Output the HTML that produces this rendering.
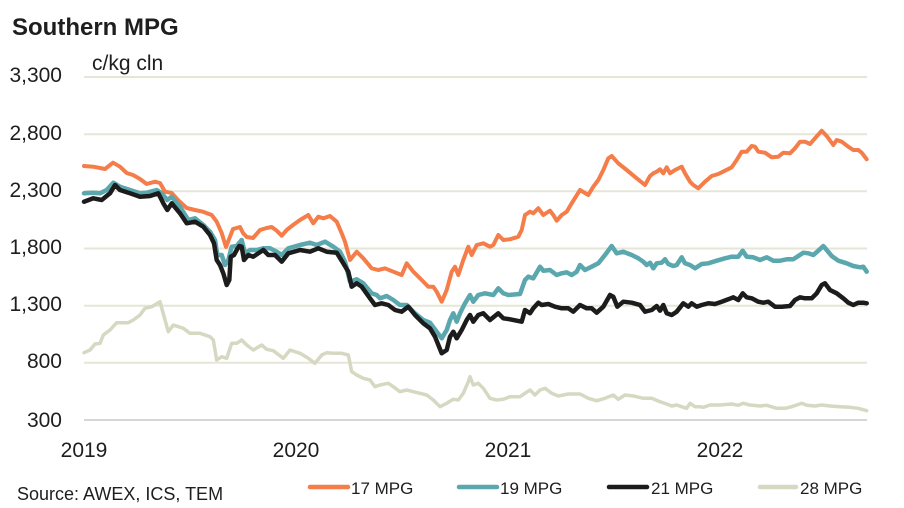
<!DOCTYPE html>
<html>
<head>
<meta charset="utf-8">
<style>
html,body{margin:0;padding:0;background:#fff;}
svg{display:block;}
text{font-family:"Liberation Sans",Arial,sans-serif;fill:#1e1e1e;}
</style>
</head>
<body>
<svg width="904" height="508" viewBox="0 0 904 508" xmlns="http://www.w3.org/2000/svg">
<rect width="904" height="508" fill="#fff"/>
<text x="12" y="35" font-size="24" font-weight="bold">Southern MPG</text>
<text x="92" y="70" font-size="21">c/kg cln</text>

<g stroke="#e6e6d7" stroke-width="2">
<line x1="84" y1="77" x2="867" y2="77"/>
<line x1="84" y1="134.2" x2="867" y2="134.2"/>
<line x1="84" y1="191.3" x2="867" y2="191.3"/>
<line x1="84" y1="248.5" x2="867" y2="248.5"/>
<line x1="84" y1="305.7" x2="867" y2="305.7"/>
<line x1="84" y1="362.8" x2="867" y2="362.8"/>
</g>
<line x1="84" y1="420" x2="867" y2="420" stroke="#d6d6d6" stroke-width="2"/>

<g font-size="21" text-anchor="end">
<text x="62" y="82">3,300</text>
<text x="62" y="140">2,800</text>
<text x="62" y="197">2,300</text>
<text x="62" y="254">1,800</text>
<text x="62" y="311">1,300</text>
<text x="62" y="368">800</text>
<text x="62" y="427">300</text>
</g>
<g font-size="21" text-anchor="middle">
<text x="84" y="457">2019</text>
<text x="296" y="457">2020</text>
<text x="508" y="457">2021</text>
<text x="720" y="457">2022</text>
</g>

<g fill="none" stroke-linejoin="round" stroke-linecap="round">
<polyline stroke="#d6d8c2" stroke-width="3.5" points="84,352.7 90,350 95,344 100,343.3 103.3,335 110,330 116.7,322.7 123.3,322.7 128.3,322.7 133.3,320 140,315 145,308.3 151.7,306.7 160,301.7 165,320 168.3,331.7 173.3,325 183.3,328.3 190,333.3 200,333.3 210,336.7 213.3,340 216.7,360 221.7,356.7 226.7,358.3 231.7,343.3 236.7,343.3 241.7,340 246.7,345 253.3,350 261.7,345 266.7,349.3 273.3,350.7 283.3,358.3 290,350 300,353.3 308.3,358.3 315,363.3 321.7,355 326.7,352.7 333.3,353.3 341.7,353.3 348.3,355 351.7,371.7 356.7,375 363.3,378.3 370,380 375,386.7 380,385 388.3,383.3 393.3,386.7 400,391.7 406.7,390 413.3,391.7 420,393.3 426.7,395 433.3,400 440,406.7 446.7,403.3 453.3,399.3 458.3,400 463.3,393.3 468.3,381.7 470,376.7 473.3,385 478.3,383.3 483.3,388.3 490,398.3 496.7,400 503.3,399.3 510,396.7 520,396.7 525,393.3 530,390 535,395 540,390 545,388.3 551.7,393.3 558.3,396 568.3,394 580,394 588.3,398.3 596.7,400.7 605,398.3 613.3,395 618.3,399.3 625,395 633.3,396 643.3,398.3 651.7,398.3 660,401.7 666.7,404 671.7,406 676.7,405 681.7,406.7 686.7,408.3 690,403.3 695,406.7 700,406.7 703.3,407.3 710,405 720,405 731.7,404 738.3,405.3 743.3,403.3 750,405 760,406 766.7,405.3 776.7,408.3 785,408.3 791.7,406.7 796.7,405 801.7,403.3 806.7,405.3 815,406 821.7,405 830,406 840,406.7 850,407.3 858.3,408.3 866.7,410.7"/>
<polyline stroke="#f47d49" stroke-width="4" points="84,166 93.3,166.7 100,168 105,169 113,162.7 120,166.7 126.7,173 133,175 140,179 146.7,184 155,181.7 160,183 165,191.7 171.7,193 178,200 186.7,208 195,210 203,211.7 211.7,215 216.7,221.7 221.7,233 226,247 230,236.7 233,229 240,227 243,233 246.7,237 253,238 260,230 266.7,228 271.7,227 276.7,230.7 281.7,235.7 286.7,230 293,225 300,220 308.3,215 313.3,223.3 318.3,216.7 323.3,218.3 330,216 336.7,221.7 341.7,233.3 345,241.7 350,260 356.7,251.7 363.3,258.3 371.7,268.3 378.3,270 385,268.3 393.3,271.7 401.7,275 406.7,263.3 413.3,271.7 421.7,280 428.3,286.7 433.3,286.7 436.7,291.7 441.7,301.7 446.7,290 451.7,271.7 455,266.7 458.3,275 463.3,260 468.3,246.7 471.7,255 476.7,245 483.3,243.3 490,246.7 493.3,245 498.3,235 503.3,240 510,239.3 518.3,236.7 521.7,230 525,215 530,211.7 533.3,213.3 538.3,208.3 543.3,215 550,210.7 553.3,215 556.7,220.7 561.7,215 566.7,211.7 571.7,203.3 580,190 588.3,195 593.3,186.7 598.3,180 603.3,170 608.3,158.3 611.7,156 618.3,163.3 626.7,170 636.7,178.3 645,185 650,176 653.3,173.3 656.7,171.7 660,169.3 663.3,173.3 666.7,167.3 670,173.3 675,170 681.7,166.7 685,173.3 690,181.7 693.3,185 698.3,188.3 705,181.7 711.7,176 718.3,174 725,170.7 731.7,167.3 736.7,160 741.7,151.7 746.7,151.7 751.7,146 755,146.7 758.3,151.7 765,152.7 771.7,157.3 778.3,156.7 783.3,152.7 790,153.3 795,148.3 800,141.7 805,141.7 810,144 815,138.3 821.7,130.7 826.7,136 833.3,145 836.7,140 841.7,141.7 848.3,146.7 853.3,150 858.3,150 861.7,152.7 866.7,159.3"/>
<polyline stroke="#5ba7ae" stroke-width="4.5" points="84,193.3 93,192.7 100,193.3 106.7,190 113.3,182.7 120,186.7 130,190 140,193.3 146.7,192.7 156.7,190 161.7,193.3 167.3,200 171.7,196.7 180,206.7 188.3,220 195,218.3 203.3,225 210,231.7 215,240 217.3,255 221.7,255 225,265 228.3,260 231.7,246.7 236.7,246 241.7,240 245,253.3 250,250 256.7,250 263.3,248.3 270,248.3 276.7,251.7 281.7,255 288.3,248.3 300,245 310,242.7 316.7,245 325,241.7 333.3,246.7 340,251.7 345,261.7 350,281.7 356.7,279.3 363.3,283.3 371.7,293.3 376.7,295 380,298.3 386.7,296 393.3,300 400,305 406.7,305 415,313.3 423.3,320 430,322.7 436.7,331.7 441.7,338.3 446.7,330 450,320 453.3,313.3 456.7,321.7 460,313.3 465,303.3 470,295 473.3,301.7 478.3,295 485,293.3 493.3,295 498.3,288.3 503.3,293.3 508.3,295 520,294 525,280 528.3,276.7 533.3,278.3 540,266.7 543.3,270.7 550,270 556.7,275 561.7,273.3 566.7,272.3 571.7,275 576.7,271.7 580,265 585,270 591.7,266.7 598.3,263.3 605,255 611.7,246 616.7,253.3 623.3,251.7 631.7,255 638.3,258.3 643.3,261.7 646.7,265 650,262.7 653.3,268.3 656.7,263.3 661.7,262.7 665,259.3 668.3,264 673.3,266 676.7,265 681.7,257.3 685,263.3 690,265 695,268.3 701.7,264 708.3,263.3 716.7,260.7 725,258.3 731.7,256.7 738.3,256.7 742.7,250.7 746.7,256.7 753.3,257.3 760,260 766.7,257.3 773.3,260.7 780,260.7 786.7,259.3 793.3,259.3 798.3,256 803.3,252.7 808.3,253.3 813.3,255 818.3,250.7 823.3,246 826.7,250 831.7,256 838.3,260.7 846.7,263.3 853.3,266 860,267.3 863.3,266.7 866.7,271.7"/>
<polyline stroke="#1c1c1c" stroke-width="4.5" points="84,201.7 93.3,198.3 101.7,200 110,193.3 115,185 120,190 130,193.3 140,196.7 150,196 158.3,193.3 163.3,203.3 167.3,210 171.7,203.3 180,213.3 186.7,223.3 195,221.7 203.3,226.7 210,235 214,243.3 216.7,260 220,265 223.3,273.3 226.7,285 229.3,280 230.7,256.7 234,255 236.7,250 239.3,246 241.7,246.7 244,260 248.3,255 253.3,256.7 258.3,253.3 263.3,250 268.3,255 275,255 281.7,261.7 288.3,253.3 300,250 310,251.7 318.3,248.3 326.7,251.7 336.7,252.7 343.3,263.3 348.3,271.7 351.7,286.7 356.7,283.3 361.7,286.7 370,298.3 375,305 381.7,303.3 388.3,305 395,310 401.7,311.7 408.3,306.7 415,315 423.3,323.3 430,328.3 435,336.7 441.7,353.3 446.7,350 450,336.7 453.3,331.7 456.7,338.3 461.7,330 466.7,320 470,315 473.3,321.7 478.3,315 483.3,313.3 490,320 498.3,313.3 503.3,318.3 510,319.3 521.7,321.7 525,310 530,313.3 533.3,308.3 538.3,302.7 541.7,305 548.3,304 555,306.7 561.7,308.3 568.3,308.3 573.3,311.7 580,305 586.7,308.3 591.7,308.3 596.7,312.7 603.3,306.7 610,295 613.3,296.7 617.3,306.7 623.3,301.7 631.7,302.7 640,305 645,311.7 651.7,310 656.7,306 660,310.7 663.3,305 666.7,313.3 671.7,315 676.7,311.7 683.3,303.3 688.3,306.7 691.7,303.3 696.7,306.7 701.7,305 708.3,303.3 715,304 721.7,301.7 728.3,299.3 733.3,297.3 738.3,300 742.7,293.3 746.7,297.3 751.7,298.3 758.3,301.7 763.3,302.7 768.3,301.7 775,306.7 781.7,306.7 790,306 795,300 800,297.3 805,298.3 811.7,298.3 816.7,293.3 821.7,285 825,283.3 830,290 836.7,293.3 843.3,298.3 848.3,302.7 853.3,305 858.3,302.7 863.3,302.7 866.7,303.3"/>
</g>

<text x="17" y="500" font-size="18">Source: AWEX, ICS, TEM</text>
<g stroke-width="4.5" stroke-linecap="round">
<line x1="310" y1="487" x2="348" y2="487" stroke="#f47d49"/>
<line x1="459" y1="487" x2="497" y2="487" stroke="#5ba7ae"/>
<line x1="609" y1="487" x2="647" y2="487" stroke="#1c1c1c"/>
<line x1="760" y1="487" x2="796" y2="487" stroke="#d6d8c2"/>
</g>
<g font-size="17">
<text x="351" y="494">17 MPG</text>
<text x="500" y="494">19 MPG</text>
<text x="651" y="494">21 MPG</text>
<text x="800" y="494">28 MPG</text>
</g>
</svg>
</body>
</html>
